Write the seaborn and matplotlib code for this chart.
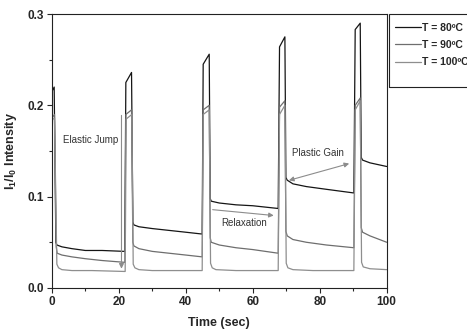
import pandas as pd
import seaborn as sns
import matplotlib.pyplot as plt
from matplotlib.patches import Rectangle

# data (time in sec, I1/I0 intensity)
t80 = [0, 0.7, 1.2, 1.5, 3, 6, 10, 15, 21.8, 22.1, 23.8, 24.2, 24.5, 26, 30, 35, 40, 44.9,
       45.2, 47.0, 47.3, 47.6, 50, 55, 60, 67.6, 68.0, 69.6, 69.9, 70.3, 72, 76, 82, 90.2,
       90.6, 92.1, 92.4, 92.8, 95, 100]
v80 = [0.215, 0.220, 0.050, 0.047, 0.045, 0.043, 0.041, 0.041, 0.040, 0.225, 0.236, 0.072,
       0.069, 0.067, 0.065, 0.063, 0.061, 0.059, 0.245, 0.256, 0.098, 0.095, 0.093, 0.091,
       0.090, 0.087, 0.264, 0.275, 0.121, 0.118, 0.114, 0.111, 0.108, 0.104, 0.283, 0.290,
       0.143, 0.140, 0.137, 0.133]

t90 = [0, 0.8, 1.3, 1.6, 3, 6, 10, 15, 21.8, 22.1, 23.8, 24.2, 24.5, 26, 30, 35, 40, 44.9,
       45.2, 47.0, 47.3, 47.6, 50, 55, 60, 67.6, 68.0, 69.6, 69.9, 70.3, 72, 76, 82, 90.2,
       90.6, 92.1, 92.4, 92.8, 95, 100]
v90 = [0.186, 0.190, 0.045, 0.038, 0.036, 0.034, 0.032, 0.030, 0.028, 0.190, 0.195, 0.050,
       0.046, 0.043, 0.040, 0.038, 0.036, 0.034, 0.195, 0.200, 0.055, 0.050, 0.047, 0.044,
       0.042, 0.038, 0.198, 0.205, 0.062, 0.057, 0.053, 0.050, 0.047, 0.044, 0.200, 0.208,
       0.066, 0.061, 0.057, 0.050]

t100 = [0, 0.8, 1.5, 2.0, 3, 6, 12, 21.9, 22.2, 23.9, 24.3, 24.8, 26, 30, 44.9, 45.2, 47.0,
        47.4, 47.9, 49, 55, 67.6, 68.0, 69.6, 70.0, 70.5, 72, 78, 90.2, 90.6, 92.1, 92.5,
        93, 95, 100]
v100 = [0.184, 0.186, 0.026, 0.022, 0.020, 0.019, 0.019, 0.018, 0.185, 0.190, 0.026, 0.022,
        0.020, 0.019, 0.019, 0.190, 0.195, 0.027, 0.022, 0.020, 0.019, 0.019, 0.190, 0.200,
        0.027, 0.022, 0.020, 0.019, 0.019, 0.195, 0.205, 0.028, 0.023, 0.021, 0.020]

labels = ["T = 80ºC", "T = 90ºC", "T = 100ºC"]
colors = ["#151515", "#6e6e6e", "#8e8e8e"]

sns.set_style("ticks")
plt.rcParams['font.family'] = ['Liberation Sans', 'DejaVu Sans']
plt.rcParams['mathtext.fontset'] = 'custom'
plt.rcParams['mathtext.rm'] = 'Liberation Sans:bold'
plt.rcParams['mathtext.bf'] = 'Liberation Sans:bold'

fig = plt.figure(figsize=(4.67, 3.34), dpi=100)
ax = fig.add_axes([0.111, 0.138, 0.717, 0.820])

for t, v, lab, c in zip([t80, t90, t100], [v80, v90, v100], labels, colors):
    sns.lineplot(x=t, y=v, ax=ax, color=c, lw=0.9, label=lab, estimator=None, sort=False)

ax.set_xlim(0, 100)
ax.set_ylim(0, 0.3)
ax.set_xticks([0, 20, 40, 60, 80, 100])
ax.set_xticks([10, 30, 50, 70, 90], minor=True)
ax.set_yticks([0.0, 0.1, 0.2, 0.3])
ax.set_yticks([0.05, 0.15, 0.25], minor=True)
ax.set_yticklabels(["0.0", "0.1", "0.2", "0.3"])
for lbl in ax.get_xticklabels() + ax.get_yticklabels():
    lbl.set_fontweight("bold")
ax.tick_params(which="major", length=3.5, width=0.8, labelsize=8.5, pad=2)
ax.tick_params(which="minor", length=2, width=0.8)
for s in ax.spines.values():
    s.set_linewidth(0.8)
    s.set_color("#222222")

ax.set_xlabel("Time (sec)", fontsize=9, fontweight="bold", labelpad=7)
ax.set_ylabel(r"I$_\mathbf{1}$/I$_\mathbf{0}$ Intensity", fontsize=9, fontweight="bold", labelpad=6)

# annotations
ax.text(3.3, 0.162, "Elastic Jump", fontsize=7, color="#333333", va="center")
ax.annotate("", xy=(20.8, 0.018), xytext=(20.8, 0.192),
            arrowprops=dict(arrowstyle="-|>", color="#8c8c8c", lw=0.8, mutation_scale=7))
ax.text(50.6, 0.071, "Relaxation", fontsize=7, color="#333333", va="center")
ax.annotate("", xy=(67.1, 0.079), xytext=(47.2, 0.086),
            arrowprops=dict(arrowstyle="-|>", color="#8c8c8c", lw=0.8, mutation_scale=7))
ax.text(71.6, 0.148, "Plastic Gain", fontsize=7, color="#333333", va="center")
ax.annotate("", xy=(89.6, 0.137), xytext=(70.0, 0.117),
            arrowprops=dict(arrowstyle="<|-|>", color="#8c8c8c", lw=0.8, mutation_scale=7))

# legend, outside to the right, clipped by the figure edge like the original
handles, labs = ax.get_legend_handles_labels()
ax.get_legend().remove()
fig.add_artist(Rectangle((389 / 467, 1 - 87 / 334), 0.3, 73 / 334, transform=fig.transFigure,
                         fill=False, lw=0.8, ec="#222222"))
leg = fig.legend(handles, labs, loc="upper left", bbox_to_anchor=(395 / 467, 1 - 23 / 334),
                 frameon=False, prop=dict(size=7.5, weight="bold"), handlelength=2.5,
                 handletextpad=0.1, labelspacing=0.68, borderpad=0, borderaxespad=0)

plt.savefig("out.png", dpi=100)
